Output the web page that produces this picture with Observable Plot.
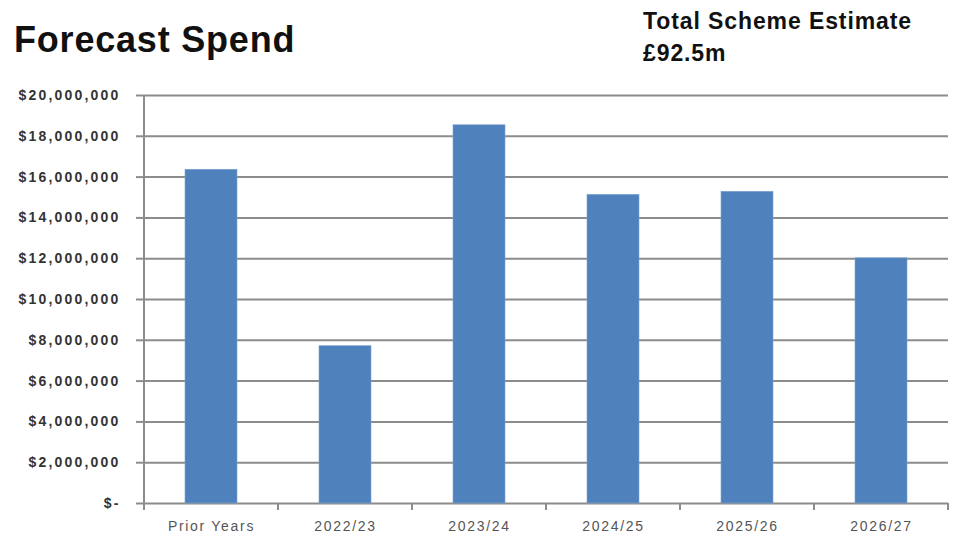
<!DOCTYPE html>
<html>
<head>
<meta charset="utf-8">
<script src="https://cdn.jsdelivr.net/npm/d3@7"></script>
<script src="https://cdn.jsdelivr.net/npm/@observablehq/plot@0.6"></script>
<style>
  html, body { margin: 0; padding: 0; background: #fff; }
  #wrap { position: relative; width: 953px; height: 539px; overflow: hidden; font-family: "Liberation Sans", Arial, sans-serif; }
  .title { position: absolute; left: 14px; top: 22px; font-size: 36px; line-height: 36px; font-weight: bold; letter-spacing: 0.8px; color: #111; white-space: nowrap; }
  .note { position: absolute; left: 643px; font-size: 23px; line-height: 23px; font-weight: bold; letter-spacing: 0.9px; color: #111; white-space: nowrap; }
  #chart { position: absolute; left: 0; top: 0; }
  #chart g[aria-label="y-axis tick label"] text { letter-spacing: 2.2px; font-weight: bold; }
  #chart g[aria-label="x-axis tick label"] text { letter-spacing: 1.7px; }
</style>
</head>
<body>
<div id="wrap">
  <div id="chart"></div>
  <div class="title">Forecast Spend</div>
  <div class="note" style="top:10px">Total Scheme Estimate</div>
  <div class="note" style="top:42px">£92.5m</div>
</div>
<script>
const categories = ["Prior Years", "2022/23", "2023/24", "2024/25", "2025/26", "2026/27"];
const spend = [16360000, 7710000, 18540000, 15130000, 15280000, 12020000];
const yTicks = [0, 2000000, 4000000, 6000000, 8000000, 10000000, 12000000, 14000000, 16000000, 18000000, 20000000];

const data = categories.map((c, i) => ({category: c, spend: spend[i]}));
const fmt = d => d === 0 ? "$-" : "$" + d3.format(",")(d);
const gridColor = "#8c8c8c";

const chart = Plot.plot({
  width: 953,
  height: 539,
  marginTop: 95,
  marginBottom: 36,
  marginLeft: 144,
  marginRight: 5,
  style: {fontFamily: "'Liberation Sans', Arial, sans-serif", background: "transparent", overflow: "visible"},
  x: {domain: categories, paddingInner: 0.61, paddingOuter: 0.305, axis: null, label: null},
  y: {domain: [0, 20000000], axis: null, label: null},
  marks: [
    Plot.ruleY(yTicks, {stroke: gridColor, strokeWidth: 2}),
    Plot.barY(data, {x: "category", y: "spend", fill: "#4F81BD", stroke: "#7ea3d3", strokeWidth: 0.6}),
    Plot.axisY(yTicks, {tickSize: 8, tickPadding: 16, tickFormat: fmt, stroke: gridColor, strokeWidth: 2, fill: "#333", fontSize: 14, label: null}),
    Plot.axisX({tickSize: 0, tickPadding: 18, fill: "#555", fontSize: 14, label: null})
  ]
});
document.getElementById("chart").appendChild(chart);

// y-axis line and category boundary ticks, positioned from Plot's own scales
const xs = chart.scale("x");
const ys = chart.scale("y");
const gap = xs.step - xs.bandwidth;
const bounds = categories.map(c => xs.apply(c) - gap / 2);
bounds.push(bounds[bounds.length - 1] + xs.step);
const svg = d3.select(chart.tagName.toLowerCase() === "svg" ? chart : chart.querySelector("svg"));
const y0 = ys.apply(0);
const g = svg.append("g").attr("stroke", gridColor).attr("stroke-width", 2);
g.append("line").attr("x1", bounds[0]).attr("x2", bounds[0]).attr("y1", ys.apply(20000000)).attr("y2", y0 + 7);
g.selectAll("line.t").data(bounds.slice(1)).join("line").attr("class", "t")
  .attr("x1", d => d).attr("x2", d => d).attr("y1", y0).attr("y2", y0 + 7);
</script>
</body>
</html>
